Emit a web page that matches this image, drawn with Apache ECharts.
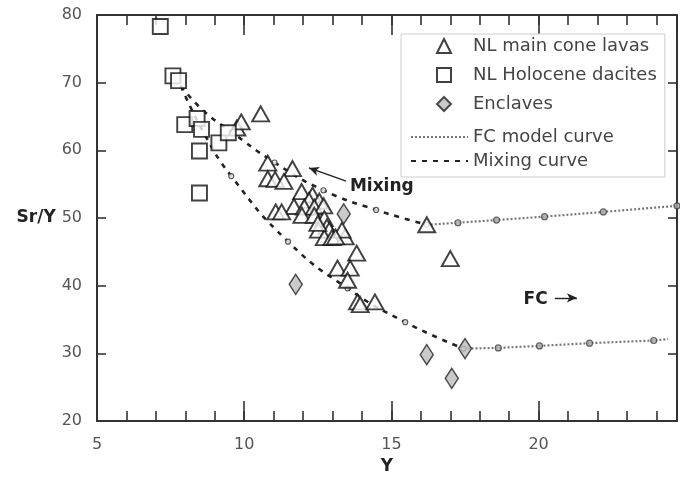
<!DOCTYPE html>
<html><head><meta charset="utf-8">
<script src="https://cdn.jsdelivr.net/npm/echarts@6/dist/echarts.min.js"></script>
<style>html,body{margin:0;padding:0;background:#fff}#c{width:680px;height:480px}</style>
</head><body><div id="c"></div>
<script>
// ---- data ----
const mainConeLavas = [
  [9.75,63.3],[9.9,64.2],[10.56,65.4],[10.8,58.1],[11.64,57.3],[10.8,55.8],[11.05,55.7],[11.35,55.4],
  [11.95,53.9],[12.32,53.4],[12.2,52.6],[12.55,52.5],[11.69,51.7],[12.04,51.6],[12.38,51.6],[12.7,51.8],
  [11.07,50.9],[11.27,50.9],[11.96,50.4],[12.38,50.4],[12.72,49.9],[12.81,48.7],[12.52,48.2],[12.89,48.2],
  [12.72,47.1],[12.98,47.1],[13.43,47.2],[13.32,48.2],[13.82,44.8],[13.17,42.6],[13.6,42.6],[13.51,40.8],
  [13.85,37.6],[13.94,37.2],[14.44,37.6],[16.2,49.0],[17.0,44.0],[12.5,49.2],[13.1,47.2]
];
const holoceneDacites = [
  [7.15,78.3],[7.58,71.0],[7.77,70.3],[7.98,63.8],[8.4,64.7],[8.55,63.1],[8.48,59.9],[8.48,53.7],[9.14,61.1],[9.46,62.6]
];
const enclaves = [[11.75,40.2],[13.38,50.6],[16.2,29.8],[17.05,26.3],[17.5,30.7]];
const mixingUpper = [[7.85,69.5],[8.6,65.9],[9.48,63.0],[11.03,58.2],[12.69,54.1],[14.48,51.2],[16.2,49.0]];
const mixingLower = [[7.85,69.5],[8.6,62.8],[9.56,56.2],[11.49,46.5],[13.51,39.6],[15.47,34.6],[17.45,30.7]];
const mixingTicks = [[11.03,58.2],[12.69,54.1],[14.48,51.2],[16.2,49.0],[9.56,56.2],[11.49,46.5],[13.51,39.6],[15.47,34.6],[17.45,30.7]];
const fcUpper = [[16.2,49.0],[17.26,49.3],[18.57,49.7],[20.2,50.2],[22.2,50.9],[24.7,51.8]];
const fcLower = [[17.45,30.7],[18.63,30.8],[20.03,31.1],[21.73,31.5],[23.91,31.9],[24.4,32.1]];
const fcTicks = [[17.26,49.3],[18.57,49.7],[20.2,50.2],[22.2,50.9],[24.7,51.8],[18.63,30.8],[20.03,31.1],[21.73,31.5],[23.91,31.9]];
const xRange = [5, 24.7];
const yRange = [20, 80];
const symbolLegend = ['NL main cone lavas','NL Holocene dacites','Enclaves'];
const lineLegend = ['FC model curve','Mixing curve'];

const FONT = 'DejaVu Sans';
const AX = '#333';
const chart = echarts.init(document.getElementById('c'));
function xAx(pos, interval, len, showLine, showLabel) {
  return {
    type:'value', position:pos, min:xRange[0], max:xRange[1], interval:interval,
    axisLine:{show:showLine, lineStyle:{color:AX, width:2}},
    axisTick:{show:true, inside:true, length:len, lineStyle:{color:AX, width:1.6}},
    splitLine:{show:false},
    axisLabel:{show:showLabel, margin:16, color:'#555', fontFamily:FONT, fontSize:16,
      formatter: v => (v % 5 === 0 ? String(v) : '')},
    name: (showLabel ? 'Y' : ''), nameLocation:'middle', nameGap:37,
    nameTextStyle:{fontFamily:FONT, fontWeight:'bold', fontSize:17, color:'#222'}
  };
}
function yAx(pos, showLabel) {
  return {
    type:'value', position:pos, min:yRange[0], max:yRange[1], interval:10,
    axisLine:{show:true, onZero:false, lineStyle:{color:AX, width:2}},
    axisTick:{show:true, inside:true, length:9, lineStyle:{color:AX, width:1.6}},
    splitLine:{show:false},
    axisLabel:{show:showLabel, margin:15, color:'#555', fontFamily:FONT, fontSize:16},
    name:(showLabel ? 'Sr/Y' : ''), nameLocation:'middle', nameRotate:0, nameGap:41,
    nameTextStyle:{fontFamily:FONT, fontWeight:'bold', fontSize:17, color:'#222'}
  };
}
const openStyle = {color:'#fff', borderColor:'#111', borderWidth:1.9};
chart.setOption({
  animation:false,
  backgroundColor:'#fff',
  grid:{left:97, right:2, top:15, bottom:59},
  xAxis:[xAx('bottom',5,20,true,true), xAx('bottom',1,10,false,false), xAx('top',5,20,true,false), xAx('top',1,10,false,false)],
  yAxis:[yAx('left',true), yAx('right',false)],
  legend:[{
    data:symbolLegend, orient:'vertical', left:401, top:34,
    padding:[3,8,64,35], itemGap:11, itemWidth:14, itemHeight:14,
    backgroundColor:'#fff', borderColor:'#ccc', borderWidth:1,
    textStyle:{fontFamily:FONT, fontSize:18, color:'#444', padding:[0,0,0,17]}
  },{
    data:lineLegend, orient:'vertical', left:410, top:128,
    padding:0, itemGap:6, itemWidth:57, itemHeight:20,
    textStyle:{fontFamily:FONT, fontSize:18, color:'#444'}
  }],
  series:[
    {name:'Mixing curve', type:'line', smooth:true, data:mixingUpper, symbol:'none',
      itemStyle:{color:'transparent', borderColor:'transparent'},
      lineStyle:{color:'#222', width:2.6, type:[5,6]}, z:2},
    {name:'Mixing curve', type:'line', smooth:true, data:mixingLower, symbol:'none',
      itemStyle:{color:'transparent', borderColor:'transparent'},
      lineStyle:{color:'#222', width:2.6, type:[5,6]}, z:2},
    {name:'FC model curve', type:'line', data:fcUpper, symbol:'none',
      itemStyle:{color:'transparent', borderColor:'transparent'},
      lineStyle:{color:'#777', width:2.2, type:[2,2]}, z:2},
    {name:'FC model curve', type:'line', data:fcLower, symbol:'none',
      itemStyle:{color:'transparent', borderColor:'transparent'},
      lineStyle:{color:'#777', width:2.2, type:[2,2]}, z:2},
    {name:'mixTicks', type:'scatter', data:mixingTicks, symbol:'circle', symbolSize:5,
      itemStyle:{color:'#fff', borderColor:'#333', borderWidth:1.2}, z:3, silent:true,
      markLine:{silent:true, symbol:['none','arrow'], symbolSize:[7,10],
        lineStyle:{color:'#222', width:1.4, type:'solid'}, label:{show:false},
        data:[[{coord:[13.46,55.45]},{coord:[12.2,57.4]}],[{coord:[20.55,38.2]},{coord:[21.3,38.2]}]]},
      markPoint:{silent:true, symbol:'circle', symbolSize:0,
        label:{show:true, position:'right', distance:0, fontFamily:FONT, fontWeight:'bold', fontSize:17, color:'#222'},
        data:[{coord:[13.59,54.7], value:'Mixing', label:{formatter:'Mixing'}},
              {coord:[19.49,37.9], value:'FC', label:{formatter:'FC'}}]}
    },
    {name:'fcTicks', type:'scatter', data:fcTicks, symbol:'circle', symbolSize:6,
      itemStyle:{color:'#aaa', borderColor:'#444', borderWidth:1.2}, z:3, silent:true},
    {name:'NL main cone lavas', type:'scatter', data:mainConeLavas, symbol:'triangle', symbolSize:[17,15],
      itemStyle:openStyle, z:4},
    {name:'NL Holocene dacites', type:'scatter', data:holoceneDacites, symbol:'rect', symbolSize:15,
      itemStyle:openStyle, z:4},
    {name:'Enclaves', type:'scatter', data:enclaves, symbol:'diamond', symbolSize:[13,20],
      itemStyle:{color:'#bdbdbd', borderColor:'#222', borderWidth:1.5}, z:5}
  ]
});
</script></body></html>
